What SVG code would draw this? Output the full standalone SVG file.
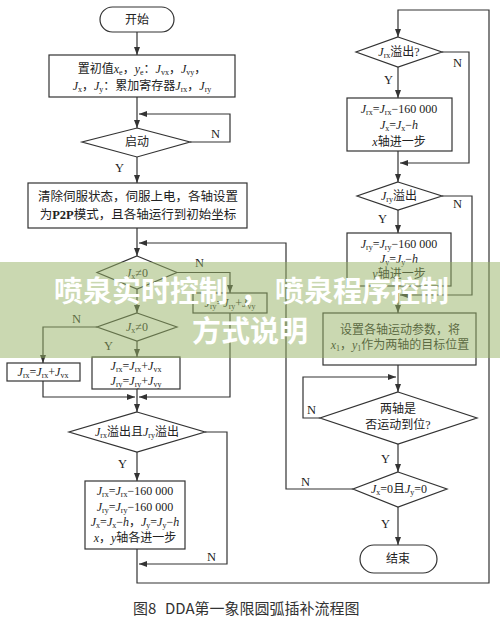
<svg xmlns="http://www.w3.org/2000/svg" width="500" height="623" viewBox="0 0 500 623">
<defs>
<marker id="ah" markerWidth="8" markerHeight="6" refX="8" refY="3" orient="auto" markerUnits="userSpaceOnUse">
<path d="M0,0 L8,3 L0,6 z" fill="#333"/>
</marker>
<style>
.shape{fill:#fff;stroke:#333;stroke-width:1.2}
.ln{fill:none;stroke:#333;stroke-width:1.2}
.ar{fill:none;stroke:#333;stroke-width:1.2;marker-end:url(#ah)}
text{font-family:"Liberation Serif","Noto Sans CJK SC",serif;font-size:12px;fill:#222}
.c{text-anchor:middle}
.i{font-style:italic}
.s{font-size:8px}
.lbl{font-size:12.5px}
.ov{font-family:"Noto Sans CJK SC",sans-serif;font-size:29px;font-weight:700;fill:#fff}
.cap{font-family:"Noto Sans CJK SC",sans-serif;font-size:15px;fill:#333}
</style>
</defs>
<rect width="500" height="623" fill="#fff"/>

<g id="connectors">
<line class="ar" x1="137" y1="32" x2="137" y2="55"/>
<line class="ar" x1="137" y1="97" x2="137" y2="128"/>
<polyline class="ar" points="190,142 230,142 230,114 139,114"/>
<line class="ar" x1="137" y1="157" x2="137" y2="183"/>
<line class="ar" x1="137" y1="228" x2="137" y2="256"/>
<polyline class="ar" points="353,489 286,489 286,243 139,243"/>
<polyline class="ar" points="177,272.5 230,272.5 230,293"/>
<polyline class="ar" points="230,313 230,397 139,397"/>
<line class="ar" x1="137" y1="289" x2="137" y2="313"/>
<polyline class="ar" points="97,327 43,327 43,363"/>
<line class="ar" x1="137" y1="341" x2="137" y2="357"/>
<polyline class="ar" points="43,381 43,397 135,397"/>
<line class="ar" x1="137" y1="389" x2="137" y2="412"/>
<line class="ar" x1="137" y1="452" x2="137" y2="481"/>
<polyline class="ar" points="205,432 227,432 227,564 139,564"/>
<polyline class="ar" points="137,549 137,583 489,583 489,10 398,10 398,37"/>
<polyline class="ar" points="442,52 469,52 469,163 400,163"/>
<line class="ar" x1="398" y1="67" x2="398" y2="98"/>
<line class="ar" x1="398" y1="151" x2="398" y2="182"/>
<polyline class="ar" points="442,196 472,196 472,295 400,295"/>
<line class="ar" x1="398" y1="210" x2="398" y2="233"/>
<line class="ar" x1="398" y1="286" x2="398" y2="313"/>
<line class="ar" x1="398" y1="365" x2="398" y2="392"/>
<polyline class="ar" points="320,418 303,418 303,377 396,377"/>
<line class="ar" x1="398" y1="444" x2="398" y2="472"/>
<line class="ar" x1="398" y1="507" x2="398" y2="545"/>
<text class="lbl" x="211" y="138">N</text>
<text class="lbl" x="115" y="172">Y</text>
<text class="lbl" x="195" y="267">N</text>
<text class="lbl" x="72" y="323">N</text>
<text class="lbl" x="104" y="350">Y</text>
<text class="lbl" x="118" y="468">Y</text>
<text class="lbl" x="207" y="561">N</text>
<text class="lbl" x="453" y="67">N</text>
<text class="lbl" x="384" y="84">Y</text>
<text class="lbl" x="453" y="208">N</text>
<text class="lbl" x="378" y="223">Y</text>
<text class="lbl" x="307" y="414">N</text>
<text class="lbl" x="381" y="463">Y</text>
<text class="lbl" x="301" y="486">N</text>
<text class="lbl" x="381" y="528">Y</text>
</g>

<g id="start">
<rect class="shape" x="100" y="7" width="74" height="25" rx="12.5"/>
<text class="c" x="137" y="24">开始</text>
</g>

<g id="init">
<rect class="shape" x="49" y="55" width="186" height="42"/>
<text class="c" x="142" y="73">置初值<tspan class="i">x</tspan><tspan class="s" dy="2">e</tspan><tspan dy="-2">，</tspan><tspan class="i">y</tspan><tspan class="s" dy="2">e</tspan><tspan dy="-2">：</tspan><tspan class="i">J</tspan><tspan class="s" dy="2">vx</tspan><tspan dy="-2">，</tspan><tspan class="i">J</tspan><tspan class="s" dy="2">vy</tspan><tspan dy="-2">，</tspan></text>
<text class="c" x="142" y="90"><tspan class="i">J</tspan><tspan class="s" dy="2">x</tspan><tspan dy="-2">，</tspan><tspan class="i">J</tspan><tspan class="s" dy="2">y</tspan><tspan dy="-2">：累加寄存器</tspan><tspan class="i">J</tspan><tspan class="s" dy="2">rx</tspan><tspan dy="-2">，</tspan><tspan class="i">J</tspan><tspan class="s" dy="2">ry</tspan></text>
</g>

<g id="startq">
<polygon class="shape" points="137,128 190,142 137,157 82,142"/>
<text class="c" x="137" y="146">启动</text>
</g>

<g id="servo">
<rect class="shape" x="28" y="183" width="219" height="45"/>
<text class="c" x="138" y="201" style="font-size:12.5px">清除伺服状态，伺服上电，各轴设置</text>
<text class="c" x="138" y="219" style="font-size:12.5px">为<tspan font-weight="bold">P2P</tspan>模式，且各轴运行到初始坐标</text>
</g>

<g id="d1">
<polygon class="shape" points="137,256 177,272.5 137,289 97,272.5"/>
<text class="c" x="137" y="277"><tspan class="i">J</tspan><tspan class="s" dy="2">x</tspan><tspan dy="-2">≠0</tspan></text>
</g>

<g id="b_ry">
<rect class="shape" x="193" y="293" width="74" height="20"/>
<text class="c" x="230" y="307"><tspan class="i">J</tspan><tspan class="s" dy="2">ry</tspan><tspan dy="-2">=</tspan><tspan class="i">J</tspan><tspan class="s" dy="2">ry</tspan><tspan dy="-2">+</tspan><tspan class="i">J</tspan><tspan class="s" dy="2">vy</tspan></text>
</g>

<g id="d2">
<polygon class="shape" points="137,313 177,327 137,341 97,327"/>
<text class="c" x="137" y="331"><tspan class="i">J</tspan><tspan class="s" dy="2">x</tspan><tspan dy="-2">≠0</tspan></text>
</g>

<g id="b_rx">
<rect class="shape" x="7" y="363" width="73" height="18"/>
<text class="c" x="43" y="376"><tspan class="i">J</tspan><tspan class="s" dy="2">rx</tspan><tspan dy="-2">=</tspan><tspan class="i">J</tspan><tspan class="s" dy="2">rx</tspan><tspan dy="-2">+</tspan><tspan class="i">J</tspan><tspan class="s" dy="2">vx</tspan></text>
</g>

<g id="b_both">
<rect class="shape" x="92" y="357" width="88" height="32"/>
<text class="c" x="136" y="370"><tspan class="i">J</tspan><tspan class="s" dy="2">rx</tspan><tspan dy="-2">=</tspan><tspan class="i">J</tspan><tspan class="s" dy="2">rx</tspan><tspan dy="-2">+</tspan><tspan class="i">J</tspan><tspan class="s" dy="2">vx</tspan></text>
<text class="c" x="136" y="385"><tspan class="i">J</tspan><tspan class="s" dy="2">ry</tspan><tspan dy="-2">=</tspan><tspan class="i">J</tspan><tspan class="s" dy="2">ry</tspan><tspan dy="-2">+</tspan><tspan class="i">J</tspan><tspan class="s" dy="2">vy</tspan></text>
</g>

<g id="d3">
<polygon class="shape" points="137,412 205,432 137,452 69,432"/>
<text class="c" x="137" y="436"><tspan class="i">J</tspan><tspan class="s" dy="2">rx</tspan><tspan dy="-2">溢出且</tspan><tspan class="i">J</tspan><tspan class="s" dy="2">ry</tspan><tspan dy="-2">溢出</tspan></text>
</g>

<g id="b_step">
<rect class="shape" x="85" y="481" width="100" height="68"/>
<text class="c" x="135" y="495"><tspan class="i">J</tspan><tspan class="s" dy="2">rx</tspan><tspan dy="-2">=</tspan><tspan class="i">J</tspan><tspan class="s" dy="2">rx</tspan><tspan dy="-2">−160 000</tspan></text>
<text class="c" x="135" y="511"><tspan class="i">J</tspan><tspan class="s" dy="2">ry</tspan><tspan dy="-2">=</tspan><tspan class="i">J</tspan><tspan class="s" dy="2">ry</tspan><tspan dy="-2">−160 000</tspan></text>
<text class="c" x="135" y="526"><tspan class="i">J</tspan><tspan class="s" dy="2">x</tspan><tspan dy="-2">=</tspan><tspan class="i">J</tspan><tspan class="s" dy="2">x</tspan><tspan dy="-2">−</tspan><tspan class="i">h</tspan><tspan>，</tspan><tspan class="i">J</tspan><tspan class="s" dy="2">y</tspan><tspan dy="-2">=</tspan><tspan class="i">J</tspan><tspan class="s" dy="2">y</tspan><tspan dy="-2">−</tspan><tspan class="i">h</tspan></text>
<text class="c" x="135" y="542"><tspan class="i">x</tspan>，<tspan class="i">y</tspan>轴各进一步</text>
</g>

<g id="dr1">
<polygon class="shape" points="398,37 442,52 398,67 356,52"/>
<text class="c" x="399" y="56"><tspan class="i">J</tspan><tspan class="s" dy="2">rx</tspan><tspan dy="-2">溢出?</tspan></text>
</g>

<g id="br1">
<rect class="shape" x="347" y="98" width="105" height="53"/>
<text class="c" x="399" y="113"><tspan class="i">J</tspan><tspan class="s" dy="2">rx</tspan><tspan dy="-2">=</tspan><tspan class="i">J</tspan><tspan class="s" dy="2">rx</tspan><tspan dy="-2">−160 000</tspan></text>
<text class="c" x="399" y="129"><tspan class="i">J</tspan><tspan class="s" dy="2">x</tspan><tspan dy="-2">=</tspan><tspan class="i">J</tspan><tspan class="s" dy="2">x</tspan><tspan dy="-2">−</tspan><tspan class="i">h</tspan></text>
<text class="c" x="399" y="146"><tspan class="i">x</tspan>轴进一步</text>
</g>

<g id="dr2">
<polygon class="shape" points="398,182 442,196 398,210 357,196"/>
<text class="c" x="399" y="200"><tspan class="i">J</tspan><tspan class="s" dy="2">ry</tspan><tspan dy="-2">溢出</tspan></text>
</g>

<g id="br2">
<rect class="shape" x="347" y="233" width="104" height="53"/>
<text class="c" x="399" y="248"><tspan class="i">J</tspan><tspan class="s" dy="2">ry</tspan><tspan dy="-2">=</tspan><tspan class="i">J</tspan><tspan class="s" dy="2">ry</tspan><tspan dy="-2">−160 000</tspan></text>
<text class="c" x="399" y="263"><tspan class="i">J</tspan><tspan class="s" dy="2">y</tspan><tspan dy="-2">=</tspan><tspan class="i">J</tspan><tspan class="s" dy="2">y</tspan><tspan dy="-2">−</tspan><tspan class="i">h</tspan></text>
<text class="c" x="399" y="278"><tspan class="i">y</tspan>轴进一步</text>
</g>

<g id="br3">
<rect class="shape" x="323" y="313" width="153" height="52"/>
<text class="c" x="400" y="334">设置各轴运动参数，将</text>
<text class="c" x="400" y="349"><tspan class="i">x</tspan><tspan class="s" dy="2">1</tspan><tspan dy="-2">，</tspan><tspan class="i">y</tspan><tspan class="s" dy="2">1</tspan><tspan dy="-2">作为两轴的目标位置</tspan></text>
</g>

<g id="dr3">
<polygon class="shape" points="398,392 477,418 398,444 320,418"/>
<text class="c" x="398" y="413">两轴是</text>
<text class="c" x="398" y="429">否运动到位?</text>
</g>

<g id="dr4">
<polygon class="shape" points="398,472 447,489 398,507 353,489"/>
<text class="c" x="399" y="493"><tspan class="i">J</tspan><tspan class="s" dy="2">x</tspan><tspan dy="-2">=0且</tspan><tspan class="i">J</tspan><tspan class="s" dy="2">y</tspan><tspan dy="-2">=0</tspan></text>
</g>

<g id="end">
<rect class="shape" x="360" y="545" width="77" height="28" rx="14"/>
<text class="c" x="398" y="563">结束</text>
</g>

<text class="cap" x="133" y="614">图8</text>
<text class="cap" x="165" y="614">DDA第一象限圆弧插补流程图</text>

<rect x="0" y="262" width="500" height="96" fill="rgb(150,178,100)" opacity="0.5"/>
<text class="ov" x="54" y="302">喷泉实时控制</text>
<text class="ov" x="240" y="302">，</text>
<text class="ov" x="275" y="302">喷泉程序控制</text>
<text class="ov" x="192" y="342">方式说明</text>
</svg>
